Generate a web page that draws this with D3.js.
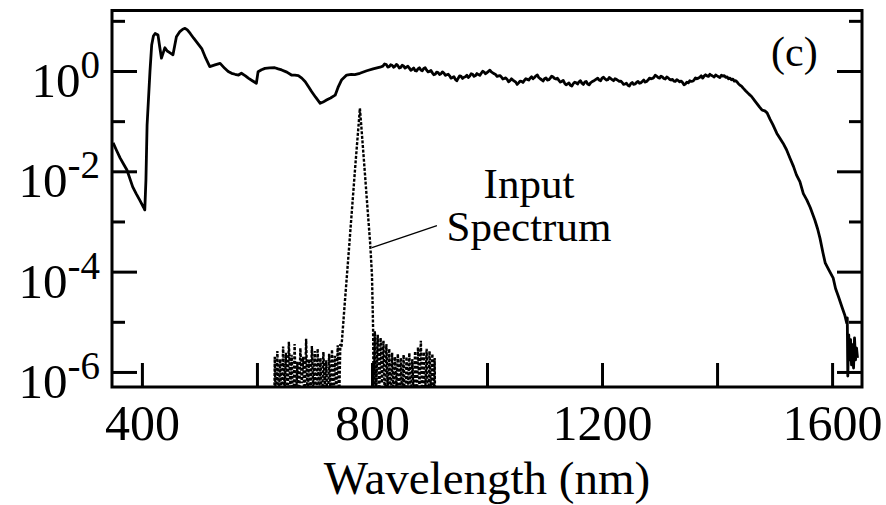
<!DOCTYPE html>
<html>
<head>
<meta charset="utf-8">
<script src="https://cdn.jsdelivr.net/npm/d3@7"></script>
<style>
  body { margin: 0; background: #fff; }
  svg { display: block; }
</style>
</head>
<body>
<div id="chart-area"></div>
<script>
// output (broadened) spectrum, [wavelength nm, intensity]
const outputSpectrum = [
  [350, 0.037], [356, 0.026], [362, 0.0185], [368, 0.014], [374, 0.0106], [384, 0.0049],
  [390, 0.0036], [396, 0.0027], [403, 0.0019], [405, 0.0017], [407, 0.0067], [409, 0.084],
  [414, 0.97], [417, 3.3], [420, 5.0], [423, 5.6], [428, 5.2], [431, 3.0], [434, 1.8],
  [437, 2.3], [440, 2.9], [444, 2.5], [449, 2.3], [454, 2.1], [457, 3.2], [460, 4.8],
  [466, 6.1], [471, 6.8], [475, 7.1], [479, 6.6], [484, 5.6], [490, 4.5], [495, 3.8],
  [504, 2.8], [511, 1.8], [518, 1.22], [527, 1.32], [536, 1.42], [544, 1.13], [550, 0.98],
  [556, 0.90], [562, 0.86], [568, 0.83], [573, 0.90], [580, 0.80], [585, 0.72], [592, 0.64],
  [599, 0.57], [602, 0.97], [608, 1.06], [614, 1.13], [622, 1.15], [631, 1.16], [637, 1.10],
  [643, 1.05], [652, 0.95], [660, 0.83], [666, 0.83], [672, 0.81], [678, 0.72], [684, 0.61],
  [690, 0.48], [695, 0.39], [702, 0.30], [710, 0.227], [715, 0.24], [721, 0.264], [728, 0.29],
  [736, 0.33], [741, 0.47], [747, 0.66], [756, 0.83], [764, 0.86], [770, 0.85], [779, 0.90],
  [791, 1.01], [802, 1.10], [814, 1.19], [819, 1.25], [822, 1.38],
  [825, 1.34], [827.5, 1.20], [830, 1.22], [832.5, 1.33], [835, 1.30], [837.5, 1.19], [840, 1.24],
  [842.5, 1.35], [845, 1.28], [847.5, 1.15], [850, 1.18], [852.5, 1.30], [855, 1.26], [857.5, 1.14],
  [860, 1.20], [862.5, 1.24], [865, 1.14], [867.5, 1.03], [870, 1.08], [872.5, 1.15], [875, 1.02],
  [877.5, 1.00], [880, 1.10], [882.5, 1.16], [885, 1.05], [887.5, 1.01], [890, 1.12], [892.5, 1.16],
  [895, 1.04], [897.5, 0.96], [900, 0.98], [902.5, 1.02], [905, 0.92], [907.5, 0.84], [910, 0.86],
  [912.5, 0.95], [915, 0.93], [917.5, 0.85], [920, 0.88], [922.5, 0.96], [925, 0.91], [927.5, 0.82],
  [930, 0.84], [932.5, 0.86], [935, 0.80], [937.5, 0.72], [940, 0.74], [942.5, 0.77], [945, 0.68],
  [947.5, 0.64], [950, 0.72], [952.5, 0.80], [955, 0.78], [957.5, 0.71], [960, 0.75], [962.5, 0.77],
  [965, 0.82], [967.5, 0.74], [970, 0.79], [972.5, 0.88], [975, 0.86], [977.5, 0.78], [980, 0.81],
  [982.5, 0.89], [985, 0.85], [987.5, 0.82], [990, 0.90], [992.5, 0.99], [995, 0.95], [997.5, 0.88],
  [1000, 0.93], [1002.5, 0.98], [1005, 1.04], [1007.5, 0.96], [1010, 0.92], [1012.5, 0.88], [1015, 0.85],
  [1017.5, 0.78], [1020, 0.80], [1022.5, 0.81], [1025, 0.76], [1027.5, 0.69], [1030, 0.71], [1032.5, 0.73],
  [1035, 0.68], [1037.5, 0.61], [1040, 0.64], [1042.5, 0.70], [1045, 0.66], [1047.5, 0.63], [1050, 0.60],
  [1052.5, 0.54], [1055, 0.58], [1057.5, 0.63], [1060, 0.62], [1062.5, 0.59], [1065, 0.65], [1067.5, 0.70],
  [1070, 0.68], [1072.5, 0.66], [1075, 0.72], [1077.5, 0.77], [1080, 0.70], [1082.5, 0.74], [1085, 0.80],
  [1087.5, 0.83], [1090, 0.74], [1092.5, 0.70], [1095, 0.67], [1097.5, 0.63], [1100, 0.70], [1102.5, 0.73],
  [1105, 0.66], [1107.5, 0.67], [1110, 0.72], [1112.5, 0.79], [1115, 0.76], [1117.5, 0.71], [1120, 0.69],
  [1122.5, 0.72], [1125, 0.65], [1127.5, 0.60], [1130, 0.62], [1132.5, 0.65], [1135, 0.57], [1137.5, 0.53],
  [1140, 0.55], [1142.5, 0.58], [1145, 0.52], [1147.5, 0.50], [1150, 0.56], [1152.5, 0.60], [1155, 0.58],
  [1157.5, 0.55], [1160, 0.61], [1162.5, 0.64], [1165, 0.57], [1167.5, 0.54], [1170, 0.60], [1172.5, 0.62],
  [1175, 0.55], [1177.5, 0.53], [1180, 0.58], [1182.5, 0.61], [1185, 0.63], [1187.5, 0.66], [1190, 0.69],
  [1192.5, 0.72], [1195, 0.66], [1197.5, 0.64], [1200, 0.72], [1202.5, 0.75], [1205, 0.70], [1207.5, 0.66],
  [1210, 0.67], [1212.5, 0.74], [1215, 0.71], [1217.5, 0.67], [1220, 0.64], [1222.5, 0.70], [1225, 0.68],
  [1227.5, 0.65], [1230, 0.62], [1232.5, 0.63], [1235, 0.59], [1237.5, 0.54], [1240, 0.55], [1242.5, 0.57],
  [1245, 0.52], [1247.5, 0.50], [1250, 0.56], [1252.5, 0.59], [1255, 0.54], [1257.5, 0.55], [1260, 0.59],
  [1262.5, 0.62], [1265, 0.57], [1267.5, 0.58], [1270, 0.62], [1272.5, 0.66], [1275, 0.60], [1277.5, 0.62],
  [1280, 0.66], [1282.5, 0.72], [1285, 0.70], [1287.5, 0.71], [1290, 0.74], [1292.5, 0.82], [1295, 0.79],
  [1297.5, 0.74], [1300, 0.72], [1302.5, 0.79], [1305, 0.76], [1307.5, 0.71], [1310, 0.69], [1312.5, 0.76],
  [1315, 0.73], [1317.5, 0.68], [1320, 0.66], [1322.5, 0.68], [1325, 0.63], [1327.5, 0.62], [1330, 0.67],
  [1332.5, 0.64], [1335, 0.61], [1337.5, 0.63], [1340, 0.59], [1342.5, 0.53], [1345, 0.55], [1347.5, 0.60],
  [1350, 0.58], [1352.5, 0.64], [1355, 0.62], [1357.5, 0.63], [1360, 0.66], [1362.5, 0.73], [1365, 0.70],
  [1367.5, 0.72], [1370, 0.75], [1372.5, 0.80], [1375, 0.72], [1377.5, 0.79], [1380, 0.84], [1382.5, 0.80],
  [1385, 0.78], [1387.5, 0.86], [1390, 0.82], [1392.5, 0.79], [1395, 0.76], [1397.5, 0.83], [1400, 0.80],
  [1402.5, 0.77], [1405, 0.74], [1407.5, 0.82], [1410, 0.79], [1412.5, 0.81], [1415, 0.75], [1417.5, 0.76],
  [1420, 0.70], [1422.5, 0.72], [1425, 0.67], [1427.5, 0.69], [1430, 0.63], [1432.5, 0.64], [1435, 0.60],
  [1437.5, 0.55], [1440, 0.52], [1442.5, 0.50], [1445, 0.46],
  [1450, 0.40], [1455, 0.35], [1460, 0.31], [1465, 0.26], [1469, 0.227], [1474, 0.19], [1478, 0.167],
  [1483, 0.16], [1487, 0.146], [1492, 0.11], [1497, 0.085], [1504, 0.057], [1509, 0.046], [1515, 0.036],
  [1521, 0.0266], [1527, 0.018], [1533, 0.0124], [1538, 0.0085], [1544, 0.0062], [1550, 0.0036],
  [1556, 0.0027], [1562, 0.0019], [1570, 0.00107], [1575, 7.0e-4], [1579, 4.6e-4], [1584, 2.4e-4],
  [1588, 1.5e-4], [1595, 1.05e-4], [1602, 7.4e-5], [1606, 4.6e-5], [1611, 3.2e-5], [1617, 2.0e-5],
  [1622, 1.37e-5], [1625.5, 9.4e-6], [1626.4, 1.2e-5], [1627.3, 8.3e-7], [1629, 5.5e-6], [1630.3, 1.74e-6],
  [1632.1, 4.4e-6], [1633.8, 1.38e-6], [1635.5, 3.5e-6], [1637.3, 1.2e-6], [1639, 4.8e-6],
  [1640.7, 1.74e-6], [1642.5, 3.0e-6], [1644.2, 1.9e-6]
];

// input laser spectrum (dashed), [wavelength nm, intensity]
const inputSpectrum = [
  [630, 1e-7], [631, 2.0e-6], [633, 2e-7], [635.5, 2.6e-6], [638, 3e-7], [640.5, 1.8e-6], [643, 1.5e-7],
  [645.5, 3.2e-6], [648, 4e-7], [650.5, 2.4e-6], [653, 2e-7], [655.5, 4.0e-6], [658, 5e-7], [660.5, 2.2e-6],
  [663, 1.2e-7], [665.5, 3.6e-6], [668, 3e-7], [670.5, 1.6e-6], [673, 2e-7], [675.5, 3.0e-6], [678, 6e-7],
  [680.5, 2.0e-6], [683, 1.5e-7], [685.5, 4.6e-6], [688, 3e-7], [690.5, 1.8e-6], [693, 2.5e-7], [695.5, 3.3e-6],
  [698, 4e-7], [700.5, 2.6e-6], [703, 1.5e-7], [705.5, 2.9e-6], [708, 3.5e-7], [710.5, 1.9e-6], [713, 2e-7],
  [715.5, 2.5e-6], [718, 5e-7], [720.5, 1.7e-6], [723, 1.2e-7], [725.5, 2.3e-6], [728, 3e-7], [730.5, 2.8e-6],
  [733, 2e-7], [735.5, 2.1e-6], [738, 4e-7], [740.5, 3.4e-6], [743, 2.5e-7], [745, 3.6e-6],
  [747, 3.2e-6], [753, 2.6e-5], [759, 2.0e-4], [765, 1.6e-3], [771, 0.0128], [776, 0.066], [779, 0.18],
  [782, 0.066], [787, 0.0117], [792, 2.0e-3], [797, 3.5e-4], [800, 8.5e-5], [801.5, 1.37e-5], [802, 6.9e-6],
  [803, 2e-7], [805, 6.5e-6], [807.5, 5e-7], [810, 5.5e-6], [812.5, 3e-7], [815, 4.8e-6], [817.5, 6e-7],
  [820, 4.2e-6], [822.5, 2e-7], [825, 3.6e-6], [827.5, 4e-7], [830, 2.9e-6], [832.5, 1.5e-7], [835, 2.4e-6],
  [837.5, 3e-7], [840, 2.0e-6], [842.5, 5e-7], [845, 2.3e-6], [847.5, 2e-7], [850, 1.9e-6], [852.5, 3.5e-7],
  [855, 2.2e-6], [857.5, 1.2e-7], [860, 2.0e-6], [862.5, 4e-7], [865, 2.4e-6], [867.5, 2e-7], [870, 1.8e-6],
  [872.5, 3e-7], [875, 2.6e-6], [877.5, 1.5e-7], [880, 3.1e-6], [882.5, 5e-7], [885, 4.2e-6], [887.5, 2e-7],
  [890, 2.5e-6], [892.5, 3.5e-7], [895, 2.9e-6], [897.5, 1.5e-7], [900, 2.6e-6], [902.5, 4e-7], [905, 2.3e-6],
  [907.5, 2e-7], [909, 1.9e-6], [910, 1e-7]
];

const xTicks = [400, 600, 800, 1000, 1200, 1400, 1600];
const xTickLabels = [400, 800, 1200, 1600];
const yMajorTicks = [1, 1e-2, 1e-4, 1e-6];
const yMinorTicks = [10, 1e-1, 1e-3, 1e-5];
const xTitle = 'Wavelength (nm)';
const panelLabel = '(c)';
const inputLabel = ['Input', 'Spectrum'];

let width = 886;
let height = 505;
let plot = { left: 112, right: 862, top: 10.5, bottom: 387 };
let font = '"Liberation Serif", "Times New Roman", Times, serif';

let x = d3.scaleLinear().domain([348, 1652]).range([plot.left, plot.right]);
let y = d3.scaleLog().domain([Math.pow(10, -6.3), Math.pow(10, 1.206)]).range([plot.bottom, plot.top]);

let chart = d3
  .select('#chart-area')
  .append('svg')
  .attr('width', width)
  .attr('height', height)
  .style('font-family', font);

chart
  .append('clipPath')
  .attr('id', 'plot-clip')
  .append('rect')
  .attr('x', plot.left)
  .attr('y', plot.top)
  .attr('width', plot.right - plot.left)
  .attr('height', plot.bottom - plot.top);

let line = d3
  .line()
  .x((d) => x(d[0]))
  .y((d) => y(d[1]));

let curves = chart.append('g').attr('clip-path', 'url(#plot-clip)');

//input spectrum, dashed
curves
  .append('path')
  .datum(inputSpectrum)
  .attr('d', line)
  .attr('fill', 'none')
  .attr('stroke', '#000')
  .attr('stroke-width', 2.4)
  .attr('stroke-dasharray', '3,1.6');

//output spectrum
curves
  .append('path')
  .datum(outputSpectrum)
  .attr('d', line)
  .attr('fill', 'none')
  .attr('stroke', '#000')
  .attr('stroke-width', 2.8)
  .attr('stroke-linejoin', 'round');

//axes
let styleAxis = (g) => {
  g.select('.domain').remove();
  g.attr('font-family', font);
  g.selectAll('.tick line').attr('stroke', '#000').attr('stroke-width', 3);
  g.selectAll('.tick text').attr('fill', '#000');
};

chart
  .append('g')
  .attr('transform', `translate(0,${plot.bottom})`)
  .call(
    d3
      .axisBottom(x)
      .tickValues(xTicks)
      .tickSizeInner(-24)
      .tickSizeOuter(0)
      .tickPadding(17)
      .tickFormat((d) => (xTickLabels.includes(d) ? d : '')),
  )
  .call(styleAxis)
  .attr('font-size', 50);

let leftMajor = chart
  .append('g')
  .attr('transform', `translate(${plot.left},0)`)
  .call(d3.axisLeft(y).tickValues(yMajorTicks).tickSizeInner(-25).tickSizeOuter(0).tickPadding(12))
  .call(styleAxis)
  .attr('font-size', 49);

leftMajor.selectAll('.tick text').each(function (d) {
  let t = d3.select(this);
  t.text(null).attr('dy', '0.52em');
  t.append('tspan').text('10');
  t.append('tspan').attr('font-size', 39).attr('dy', -19).text(Math.round(Math.log10(d)));
});

chart
  .append('g')
  .attr('transform', `translate(${plot.left},0)`)
  .call(d3.axisLeft(y).tickValues(yMinorTicks).tickSizeInner(-13).tickSizeOuter(0).tickFormat(''))
  .call(styleAxis);

chart
  .append('g')
  .attr('transform', `translate(${plot.right},0)`)
  .call(d3.axisRight(y).tickValues(yMajorTicks).tickSizeInner(-25).tickSizeOuter(0).tickFormat(''))
  .call(styleAxis);

chart
  .append('g')
  .attr('transform', `translate(${plot.right},0)`)
  .call(d3.axisRight(y).tickValues(yMinorTicks).tickSizeInner(-13).tickSizeOuter(0).tickFormat(''))
  .call(styleAxis);

//frame
chart
  .append('rect')
  .attr('x', plot.left)
  .attr('y', plot.top)
  .attr('width', plot.right - plot.left)
  .attr('height', plot.bottom - plot.top)
  .attr('fill', 'none')
  .attr('stroke', '#000')
  .attr('stroke-width', 3);

//axis title
chart
  .append('text')
  .attr('x', (plot.left + plot.right) / 2)
  .attr('y', 494)
  .attr('text-anchor', 'middle')
  .attr('font-size', 47)
  .text(xTitle);

//panel label
chart
  .append('text')
  .attr('x', 771)
  .attr('y', 66)
  .attr('font-size', 42)
  .text(panelLabel);

//annotation for the input spectrum
chart
  .append('line')
  .attr('x1', x(800))
  .attr('y1', y(3.0e-4))
  .attr('x2', x(913))
  .attr('y2', y(8.3e-4))
  .attr('stroke', '#000')
  .attr('stroke-width', 1.3);

chart
  .append('text')
  .attr('text-anchor', 'middle')
  .attr('font-size', 43)
  .selectAll('tspan')
  .data(inputLabel)
  .enter()
  .append('tspan')
  .attr('x', x(1073))
  .attr('y', (d, i) => (i === 0 ? y(2.9e-3) : y(4.1e-4)))
  .text((d) => d);
</script>
</body>
</html>
